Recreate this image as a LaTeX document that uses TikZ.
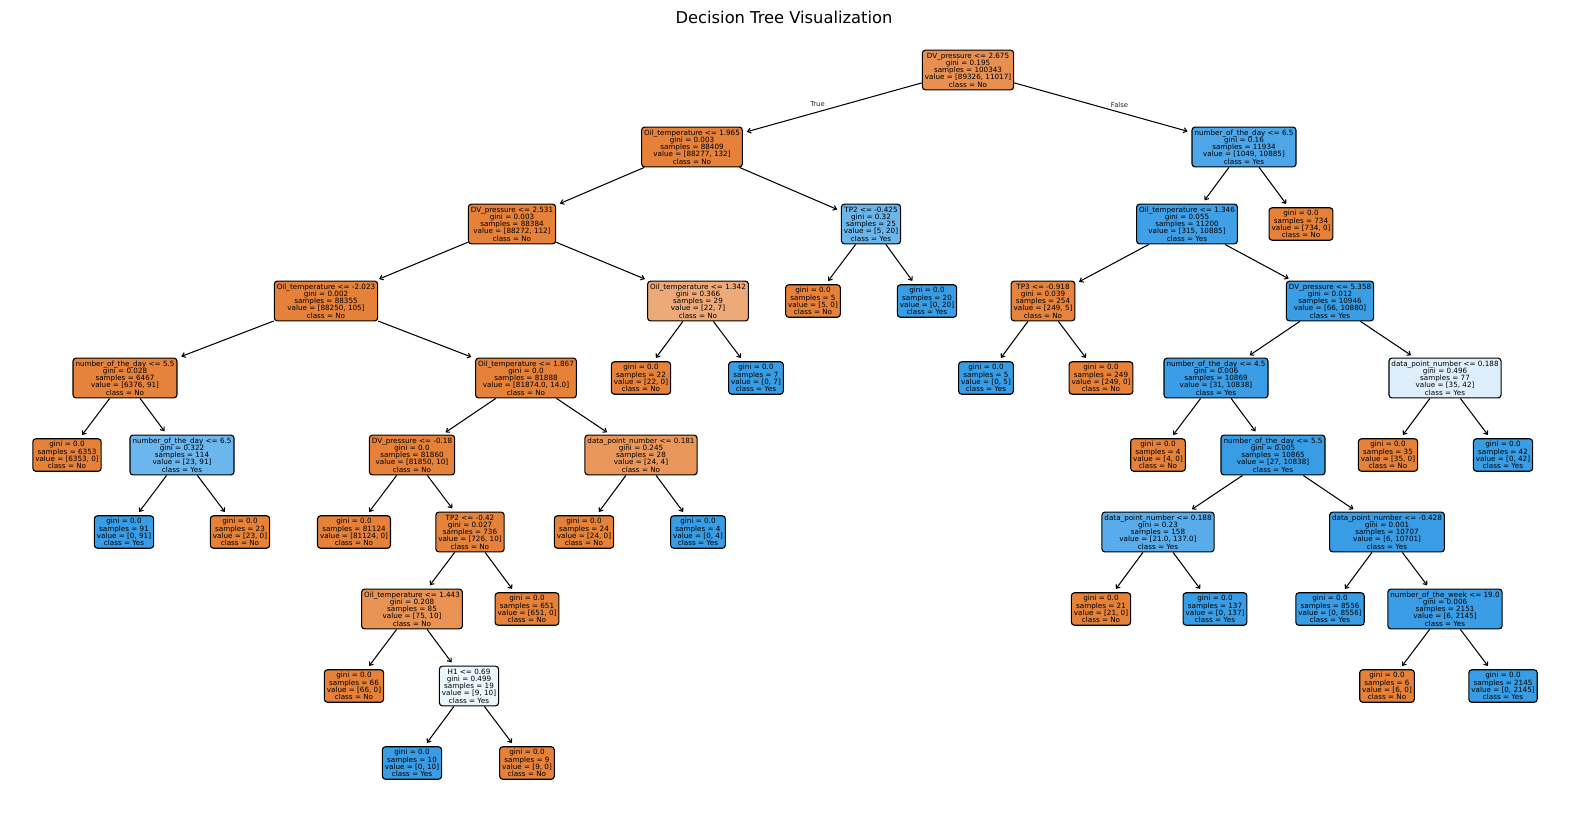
\documentclass[tikz,border=0pt]{standalone}
\usepackage{fontspec}
\setmainfont{DejaVu Sans}
\usetikzlibrary{arrows.meta}
\definecolor{cno}{RGB}{229,129,57}
\definecolor{cyes}{RGB}{57,157,229}
\tikzset{
  tn/.style={draw=black, line width=1.1pt, rounded corners=3pt, inner sep=2.5pt,
    align=center, font=\fontsize{7.2}{7.3}\selectfont},
  cN/.style={tn, fill=cno!#1!white},
  cY/.style={tn, fill=cyes!#1!white},
  edge/.style={line width=1.05pt, -{Straight Barb[length=3.2pt,width=5pt]}, shorten >=4pt},
  lbl/.style={font=\fontsize{6.8}{7}\selectfont, inner sep=0pt, text=black!85}
}
\begin{document}
\begin{tikzpicture}[x=1pt,y=-1pt]
\useasboundingbox (0,0) rectangle (1570,812);

\node[font=\fontsize{16.3}{18}\selectfont] (title) at (784,17.5) {Decision Tree Visualization};

% depth 0
\node[cN=87.7] (n0) at (968,70) {DV\_pressure \textless= 2.675\\gini = 0.195\\samples = 100343\\value = [89326, 11017]\\class = No};
% depth 1
\node[cN=99.9] (n1) at (692,147) {Oil\_temperature \textless= 1.965\\gini = 0.003\\samples = 88409\\value = [88277, 132]\\class = No};
\node[cY=90.4] (n2) at (1244,147) {number\_of\_the\_day \textless= 6.5\\gini = 0.16\\samples = 11934\\value = [1049, 10885]\\class = Yes};
% depth 2
\node[cN=99.9] (n3) at (512,224) {DV\_pressure \textless= 2.531\\gini = 0.003\\samples = 88384\\value = [88272, 112]\\class = No};
\node[cY=75] (n4) at (871,224) {TP2 \textless= -0.425\\gini = 0.32\\samples = 25\\value = [5, 20]\\class = Yes};
\node[cY=97.1] (n5) at (1187,224) {Oil\_temperature \textless= 1.346\\gini = 0.055\\samples = 11200\\value = [315, 10885]\\class = Yes};
\node[cN=100] (n6) at (1301,224) {gini = 0.0\\samples = 734\\value = [734, 0]\\class = No};
% depth 3
\node[cN=99.9] (n7) at (326,301) {Oil\_temperature \textless= -2.023\\gini = 0.002\\samples = 88355\\value = [88250, 105]\\class = No};
\node[cN=68.2] (n8) at (698,301) {Oil\_temperature \textless= 1.342\\gini = 0.366\\samples = 29\\value = [22, 7]\\class = No};
\node[cN=100] (n9) at (813,301) {gini = 0.0\\samples = 5\\value = [5, 0]\\class = No};
\node[cY=100] (n10) at (927,301) {gini = 0.0\\samples = 20\\value = [0, 20]\\class = Yes};
\node[cN=98.0] (n11) at (1043,301) {TP3 \textless= -0.918\\gini = 0.039\\samples = 254\\value = [249, 5]\\class = No};
\node[cY=99.4] (n12) at (1330,301) {DV\_pressure \textless= 5.358\\gini = 0.012\\samples = 10946\\value = [66, 10880]\\class = Yes};
% depth 4
\node[cN=98.6] (n13) at (125,378) {number\_of\_the\_day \textless= 5.5\\gini = 0.028\\samples = 6467\\value = [6376, 91]\\class = No};
\node[cN=100] (n14) at (526,378) {Oil\_temperature \textless= 1.867\\gini = 0.0\\samples = 81888\\value = [81874.0, 14.0]\\class = No};
\node[cN=100] (n15) at (641,378) {gini = 0.0\\samples = 22\\value = [22, 0]\\class = No};
\node[cY=100] (n16) at (756,378) {gini = 0.0\\samples = 7\\value = [0, 7]\\class = Yes};
\node[cY=100] (n17) at (986,378) {gini = 0.0\\samples = 5\\value = [0, 5]\\class = Yes};
\node[cN=100] (n18) at (1101,378) {gini = 0.0\\samples = 249\\value = [249, 0]\\class = No};
\node[cY=99.7] (n19) at (1216,378) {number\_of\_the\_day \textless= 4.5\\gini = 0.006\\samples = 10869\\value = [31, 10838]\\class = Yes};
\node[cY=16.7] (n20) at (1445,378) {data\_point\_number \textless= 0.188\\gini = 0.496\\samples = 77\\value = [35, 42]\\class = Yes};
% depth 5
\node[cN=100] (n21) at (67,455) {gini = 0.0\\samples = 6353\\value = [6353, 0]\\class = No};
\node[cY=74.7] (n22) at (182,455) {number\_of\_the\_day \textless= 6.5\\gini = 0.322\\samples = 114\\value = [23, 91]\\class = Yes};
\node[cN=100] (n23) at (412,455) {DV\_pressure \textless= -0.18\\gini = 0.0\\samples = 81860\\value = [81850, 10]\\class = No};
\node[cN=83.3] (n24) at (641,455) {data\_point\_number \textless= 0.181\\gini = 0.245\\samples = 28\\value = [24, 4]\\class = No};
\node[cN=100] (n25) at (1158,455) {gini = 0.0\\samples = 4\\value = [4, 0]\\class = No};
\node[cY=99.8] (n26) at (1273,455) {number\_of\_the\_day \textless= 5.5\\gini = 0.005\\samples = 10865\\value = [27, 10838]\\class = Yes};
\node[cN=100] (n27) at (1388,455) {gini = 0.0\\samples = 35\\value = [35, 0]\\class = No};
\node[cY=100] (n28) at (1503,455) {gini = 0.0\\samples = 42\\value = [0, 42]\\class = Yes};
% depth 6
\node[cY=100] (n29) at (124,532) {gini = 0.0\\samples = 91\\value = [0, 91]\\class = Yes};
\node[cN=100] (n30) at (240,532) {gini = 0.0\\samples = 23\\value = [23, 0]\\class = No};
\node[cN=100] (n31) at (354,532) {gini = 0.0\\samples = 81124\\value = [81124, 0]\\class = No};
\node[cN=98.6] (n32) at (470,532) {TP2 \textless= -0.42\\gini = 0.027\\samples = 736\\value = [726, 10]\\class = No};
\node[cN=100] (n33) at (584,532) {gini = 0.0\\samples = 24\\value = [24, 0]\\class = No};
\node[cY=100] (n34) at (698,532) {gini = 0.0\\samples = 4\\value = [0, 4]\\class = Yes};
\node[cY=84.7] (n35) at (1158,532) {data\_point\_number \textless= 0.188\\gini = 0.23\\samples = 158\\value = [21.0, 137.0]\\class = Yes};
\node[cY=99.9] (n36) at (1387,532) {data\_point\_number \textless= -0.428\\gini = 0.001\\samples = 10707\\value = [6, 10701]\\class = Yes};
% depth 7
\node[cN=86.7] (n37) at (412,609) {Oil\_temperature \textless= 1.443\\gini = 0.208\\samples = 85\\value = [75, 10]\\class = No};
\node[cN=100] (n38) at (527,609) {gini = 0.0\\samples = 651\\value = [651, 0]\\class = No};
\node[cN=100] (n39) at (1101,609) {gini = 0.0\\samples = 21\\value = [21, 0]\\class = No};
\node[cY=100] (n40) at (1215,609) {gini = 0.0\\samples = 137\\value = [0, 137]\\class = Yes};
\node[cY=100] (n41) at (1330,609) {gini = 0.0\\samples = 8556\\value = [0, 8556]\\class = Yes};
\node[cY=99.7] (n42) at (1445,609) {number\_of\_the\_week \textless= 19.0\\gini = 0.006\\samples = 2151\\value = [6, 2145]\\class = Yes};
% depth 8
\node[cN=100] (n43) at (354,686) {gini = 0.0\\samples = 66\\value = [66, 0]\\class = No};
\node[cY=10] (n44) at (469,686) {H1 \textless= 0.69\\gini = 0.499\\samples = 19\\value = [9, 10]\\class = Yes};
\node[cN=100] (n45) at (1387,686) {gini = 0.0\\samples = 6\\value = [6, 0]\\class = No};
\node[cY=100] (n46) at (1503,686) {gini = 0.0\\samples = 2145\\value = [0, 2145]\\class = Yes};
% depth 9
\node[cY=100] (n47) at (412,763) {gini = 0.0\\samples = 10\\value = [0, 10]\\class = Yes};
\node[cN=100] (n48) at (527,763) {gini = 0.0\\samples = 9\\value = [9, 0]\\class = No};

% branches, parent to child
\foreach \p/\c in {n0/n1, n0/n2, n1/n3, n1/n4, n2/n5, n2/n6, n3/n7, n3/n8,
  n4/n9, n4/n10, n5/n11, n5/n12, n7/n13, n7/n14, n8/n15, n8/n16,
  n11/n17, n11/n18, n12/n19, n12/n20, n13/n21, n13/n22, n14/n23, n14/n24,
  n19/n25, n19/n26, n20/n27, n20/n28, n22/n29, n22/n30, n23/n31, n23/n32,
  n24/n33, n24/n34, n26/n35, n26/n36, n32/n37, n32/n38, n35/n39, n35/n40,
  n36/n41, n36/n42, n37/n43, n37/n44, n42/n45, n42/n46, n44/n47, n44/n48}
  \draw[edge] (\p) -- (\c);

\node[lbl] (ltrue) at (817.5,104.5) {True};
\node[lbl] (lfalse) at (1119.5,104.5) {False};
\end{tikzpicture}
\end{document}
